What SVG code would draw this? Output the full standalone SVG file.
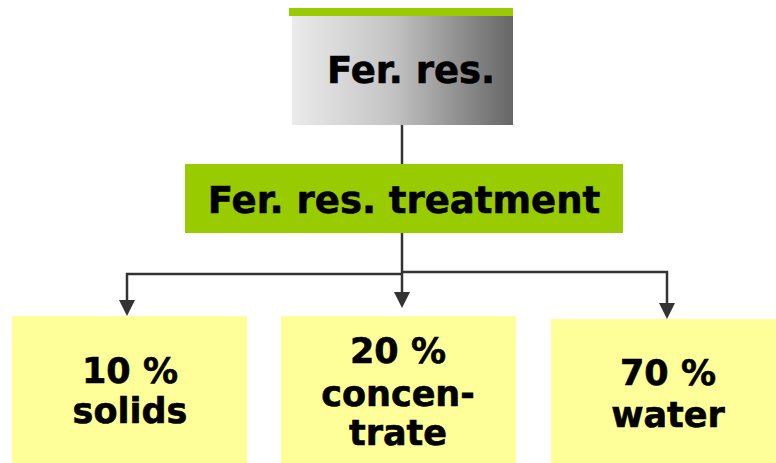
<svg xmlns="http://www.w3.org/2000/svg" width="776" height="463" viewBox="0 0 776 463">
<defs>
<linearGradient id="gray" x1="0" y1="0" x2="1" y2="0">
<stop offset="0" stop-color="#ebebeb"/>
<stop offset="0.45" stop-color="#c4c4c4"/>
<stop offset="1" stop-color="#666666"/>
</linearGradient>
</defs>
<style>
.t{font-family:"DejaVu Sans",Verdana,sans-serif;font-weight:bold;fill:#000;stroke:#000;stroke-width:0.6;text-anchor:middle}
.big{font-size:37px}
.mid{font-size:35px}
.ln{stroke:#333333;stroke-width:2.5;fill:none}
.ah{fill:#333333}
.yb{fill:#ffff99}
</style>
<g id="connectors">
<line class="ln" x1="402" y1="125" x2="402" y2="164"/>
<line class="ln" x1="402" y1="233" x2="402" y2="274"/>
<polyline class="ln" points="402,274 127,274 127,300"/>
<polyline class="ln" points="402,272 667,272 667,303"/>
<line class="ln" x1="402" y1="274" x2="402" y2="292"/>
<path class="ah" d="M119,300 L135,300 L127,316 Z"/>
<path class="ah" d="M394,292 L410,292 L402,308 Z"/>
<path class="ah" d="M659,303 L675,303 L667,319 Z"/>
</g>
<g id="node-ferres">
<rect x="289" y="8" width="224" height="8" fill="#99cc00"/>
<rect x="292" y="16" width="221" height="109" fill="url(#gray)"/>
<text class="t big" x="411" y="83">Fer. res.</text>
</g>
<g id="node-treatment">
<rect x="185" y="164" width="438" height="69" fill="#99cc00"/>
<text class="t big" x="404" y="213">Fer. res. treatment</text>
</g>
<g id="node-solids">
<rect class="yb" x="12" y="316" width="235" height="147"/>
<text class="t mid" x="130" y="383">10 %</text>
<text class="t mid" x="130" y="423">solids</text>
</g>
<g id="node-concentrate">
<rect class="yb" x="281" y="316" width="235" height="147"/>
<text class="t mid" x="398" y="363">20 %</text>
<text class="t mid" x="398" y="406">concen-</text>
<text class="t mid" x="398" y="445">trate</text>
</g>
<g id="node-water">
<rect class="yb" x="551" y="319" width="225" height="144"/>
<text class="t mid" x="668" y="385">70 %</text>
<text class="t mid" x="668" y="427">water</text>
</g>
</svg>
